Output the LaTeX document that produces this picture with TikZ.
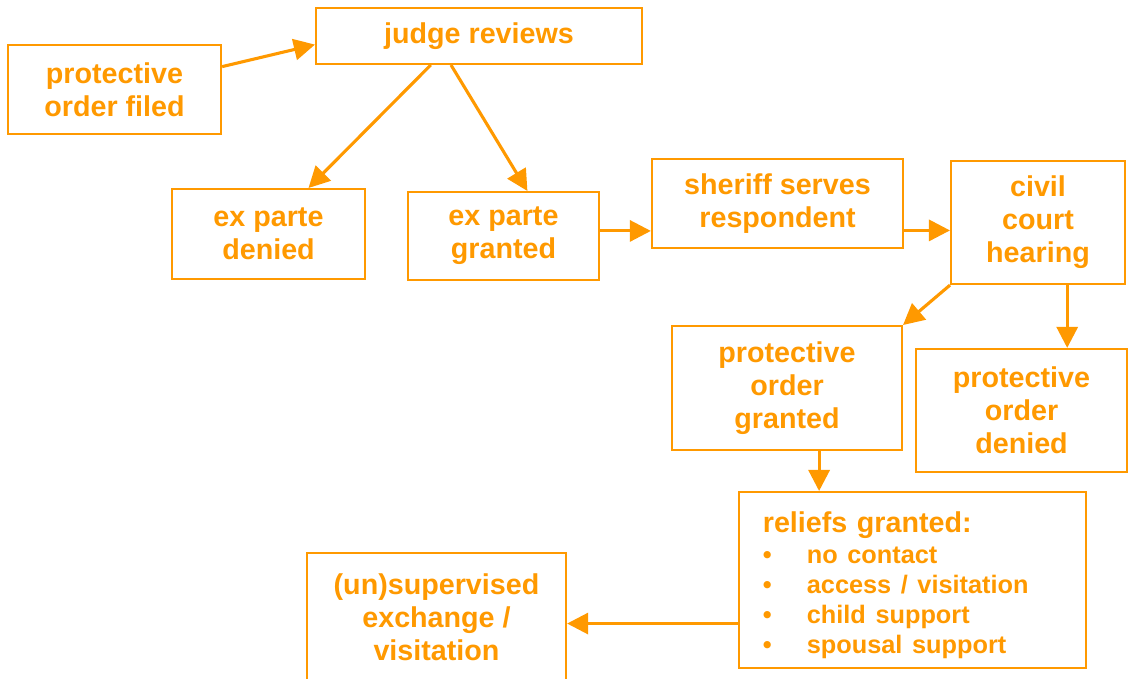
\documentclass[tikz,border=0pt]{standalone}
\usepackage{fontspec}
\setmainfont{Liberation Sans}
\usepackage{tikz}
\usetikzlibrary{arrows.meta}
\definecolor{orng}{RGB}{255,153,0}

\begin{document}
\begin{tikzpicture}[x=0.025cm,y=-0.025cm,
  box/.style={draw=orng,line width=1.4pt,text=orng,align=center,
    font=\fontsize{20.4}{23.5}\selectfont\bfseries,inner sep=0pt},
  arr/.style={draw=orng,line width=2.2pt,-{Triangle[length=15pt,width=15pt]}}]
\useasboundingbox (0,0) rectangle (1130,678);
%\draw [help lines,step=1cm] (0,0) grid (1130,678);
\node[box,minimum width=5.33cm,minimum height=2.23cm] (filed) at (114.5,89.5) {protective\\order filed};
\node[box,minimum width=8.15cm,minimum height=1.4cm] (judge) at (479,36) {judge reviews};
\node[box,minimum width=4.83cm,minimum height=2.25cm] (exdenied) at (268.5,234) {ex parte\\denied};
\node[box,minimum width=4.78cm,minimum height=2.2cm] (exgranted) at (503.5,236) {ex parte\\granted};
\node[box,minimum width=6.28cm,minimum height=2.23cm] (sheriff) at (777.5,203.5) {sheriff serves\\respondent};
\node[box,minimum width=4.35cm,minimum height=3.08cm] (civil) at (1038,222.5) {civil\\court\\hearing};
\node[box,minimum width=5.75cm,minimum height=3.1cm] (pogranted) at (787,388) {protective\\order\\granted};
\node[box,minimum width=5.28cm,minimum height=3.08cm] (podenied) at (1021.5,410.5) {protective\\order\\denied};
\node[box,align=left,inner xsep=0.6cm,text width=7.48cm,minimum height=4.4cm,
  execute at begin node={\rule{0pt}{25pt}}] (reliefs) at (912.5,580)
  {reliefs granted:\\[2pt]
   {\fontsize{18}{21.3}\selectfont
   \begin{tabular}{@{}l@{\hspace{25pt}}l@{}}
   \textbullet & no contact\\
   \textbullet & access / visitation\\
   \textbullet & child support\\
   \textbullet & spousal support
   \end{tabular}}};
\node[box,minimum width=6.48cm,minimum height=3.2cm] (unsup) at (436.5,617) {(un)supervised\\exchange /\\visitation};
% connectors
\draw[arr] (filed.12) -- (judge.183);
\draw[arr] (judge.211) -- (exdenied.49);
\draw[arr] (judge.226) -- (exgranted.62);
\draw[arr] (exgranted.3) -- (exgranted.3 -| sheriff.west);
\draw[arr] (sheriff.348) -- (sheriff.348 -| civil.west);
\draw[arr] (civil.south west) -- (pogranted.north east);
\draw[arr] (civil.-65) -- (civil.-65 |- podenied.north);
\draw[arr] (pogranted.-63) -- (pogranted.-63 |- reliefs.north);
\draw[arr] (reliefs.194) -- (reliefs.194 -| unsup.east);
\end{tikzpicture}
\end{document}
